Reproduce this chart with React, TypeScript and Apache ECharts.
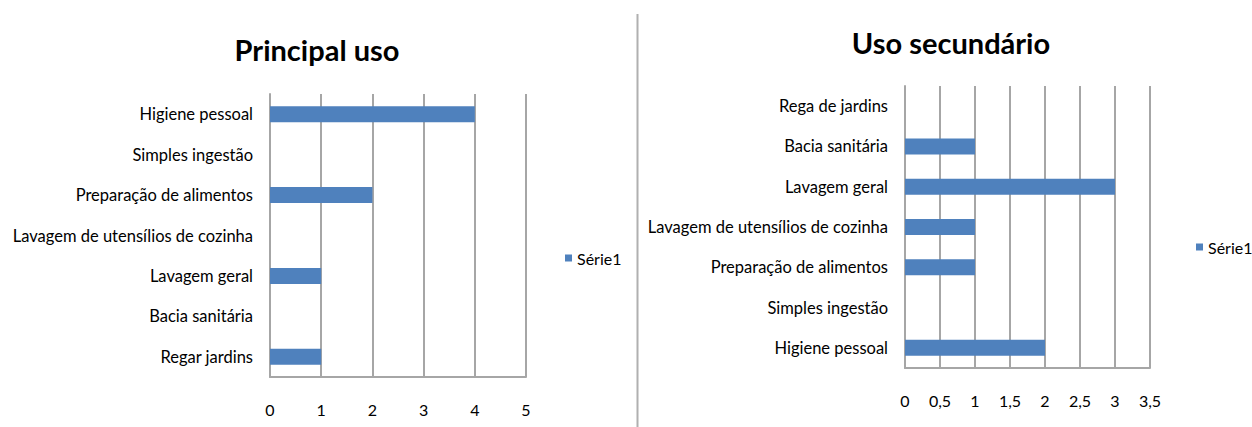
import React, { useEffect, useRef } from "react";
import * as echarts from "echarts";

const leftCategories = [
  "Higiene pessoal",
  "Simples ingestão",
  "Preparação de alimentos",
  "Lavagem de utensílios de cozinha",
  "Lavagem geral",
  "Bacia sanitária",
  "Regar jardins",
];
const leftValues = [4, 0, 2, 0, 1, 0, 1];

const rightCategories = [
  "Rega de jardins",
  "Bacia sanitária",
  "Lavagem geral",
  "Lavagem de utensílios de cozinha",
  "Preparação de alimentos",
  "Simples ingestão",
  "Higiene pessoal",
];
const rightValues = [0, 1, 3, 1, 1, 0, 2];

const leftTitle = "Principal uso";
const rightTitle = "Uso secundário";
const seriesName = "Série1";

const FONT = "Lato, 'Open Sans', sans-serif";
const GRAY = "#a6a6a6";
const BAR = "#4f81bd";

export default function App() {
  const ref = useRef<HTMLDivElement>(null);

  useEffect(() => {
    if (!ref.current) return;
    const chart = echarts.init(ref.current, undefined, { renderer: "svg" });
    const fmt = (v: number) => String(v).replace(".", ",");
    const xAxisCommon = {
      type: "value" as const,
      min: 0,
      axisLine: { show: true, lineStyle: { color: GRAY, width: 2 } },
      axisTick: { show: false },
      splitLine: { show: true, lineStyle: { color: GRAY, width: 2 } },
      axisLabel: { color: "#000", fontFamily: FONT, fontSize: 16, margin: 24, formatter: fmt },
    };
    const yAxisCommon = {
      type: "category" as const,
      inverse: true,
      axisLine: { show: true, lineStyle: { color: GRAY, width: 2 } },
      axisTick: { show: false },
      axisLabel: { color: "#000", fontFamily: FONT, fontSize: 16.5, margin: 17 },
    };
    chart.setOption({
      animation: false,
      backgroundColor: "#fff",
      title: [
        {
          text: leftTitle,
          left: 312,
          top: 30,
          textAlign: "center",
          textStyle: { fontFamily: FONT, fontWeight: "bold", fontSize: 29, color: "#000" },
        },
        {
          text: rightTitle,
          left: 946,
          top: 23,
          textAlign: "center",
          textStyle: { fontFamily: FONT, fontWeight: "bold", fontSize: 29, color: "#000" },
        },
      ],
      legend: [
        {
          data: [seriesName],
          left: 560,
          top: 245,
          itemWidth: 7,
          itemHeight: 7,
          icon: "rect",
          selectedMode: false,
          textStyle: { fontFamily: FONT, fontSize: 16, color: "#000", lineHeight: 16 },
        },
        {
          data: [seriesName],
          left: 1191,
          top: 234,
          itemWidth: 7,
          itemHeight: 7,
          icon: "rect",
          selectedMode: false,
          textStyle: { fontFamily: FONT, fontSize: 16, color: "#000", lineHeight: 16 },
        },
      ],
      grid: [
        { left: 270, right: 1252 - 526, top: 94, bottom: 427 - 377 },
        { left: 905, right: 1252 - 1150, top: 86, bottom: 427 - 368 },
      ],
      xAxis: [
        { ...xAxisCommon, gridIndex: 0, max: 5, interval: 1 },
        { ...xAxisCommon, gridIndex: 1, max: 3.5, interval: 0.5 },
      ],
      yAxis: [
        { ...yAxisCommon, gridIndex: 0, data: leftCategories },
        { ...yAxisCommon, gridIndex: 1, data: rightCategories },
      ],
      series: [
        {
          name: seriesName,
          type: "bar",
          xAxisIndex: 0,
          yAxisIndex: 0,
          data: leftValues,
          barWidth: 16,
          itemStyle: { color: BAR },
        },
        {
          name: seriesName,
          type: "bar",
          xAxisIndex: 1,
          yAxisIndex: 1,
          data: rightValues,
          barWidth: 16,
          itemStyle: { color: BAR },
        },
      ],
      graphic: [
        {
          type: "line",
          shape: { x1: 637.5, y1: 14, x2: 637.5, y2: 427 },
          style: { stroke: "#b0b0b0", lineWidth: 2 },
        },
      ],
    });
    return () => chart.dispose();
  }, []);

  return (
    <div
      ref={ref}
      style={{ position: "fixed", left: 0, top: 0, width: 1252, height: 427 }}
    />
  );
}
